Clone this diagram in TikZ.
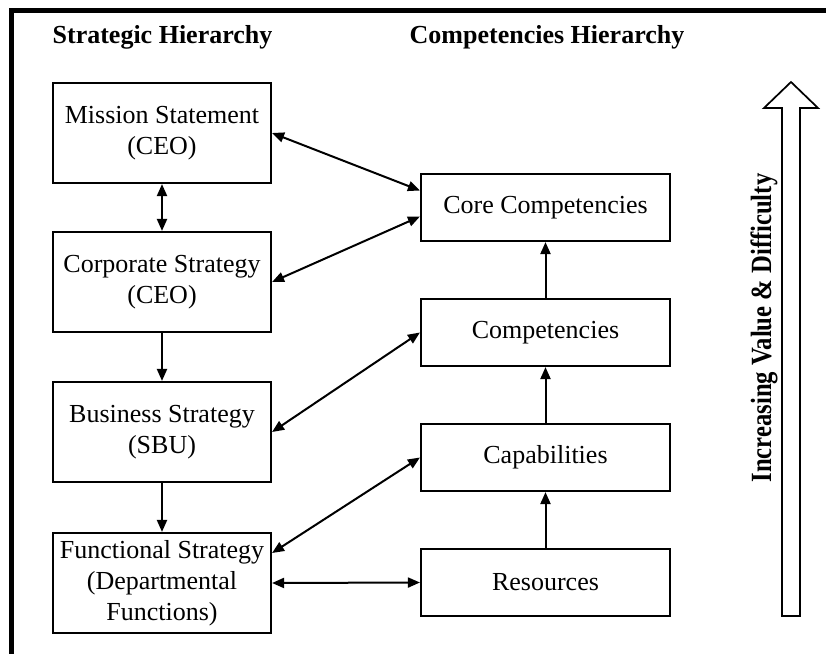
\documentclass[tikz,border=0pt]{standalone}
\usepackage{fontspec}
\setmainfont{Liberation Serif}
\usetikzlibrary{arrows.meta,positioning,calc}

\tikzset{
  box/.style={draw, line width=1.6pt, inner sep=0pt, align=center,
    font=\fontsize{19.5}{23.25}\selectfont},
  lbox/.style={box, minimum width=163.5pt, minimum height=75pt},
  rbox/.style={box, minimum width=186.75pt, minimum height=50.25pt},
  title/.style={anchor=base, font=\bfseries\fontsize{19.5}{23}\selectfont},
  both/.style={line width=1.5pt, {Triangle[length=9pt,width=7.5pt]}-{Triangle[length=9pt,width=7.5pt]}},
  single/.style={line width=1.5pt, -{Triangle[length=9pt,width=7.5pt]}},
}

\begin{document}
\begin{tikzpicture}[x=0.75pt, y=-0.75pt]
  \useasboundingbox (0,0) rectangle (826,654);
  % frame
  \draw[line width=3.75pt] (11.5,654) -- (11.5,10.5) -- (826,10.5);
  % headings
  \node[title] (lhead) at (162.5,43) {Strategic Hierarchy};
  \node[title] (rhead) at (547,43)   {Competencies Hierarchy};
  % strategic hierarchy
  \node[lbox] (mission)    at (162,133) {Mission Statement\\(CEO)};
  \node[lbox] (corporate)  at (162,282) {Corporate Strategy\\(CEO)};
  \node[lbox] (business)   at (162,432) {Business Strategy\\(SBU)};
  \node[lbox] (functional) at (162,583) {Functional Strategy\\(Departmental\\Functions)};
  % competencies hierarchy
  \node[rbox] (core)      at (545.5,207.5) {Core Competencies};
  \node[rbox] (compet)    at (545.5,332.5) {Competencies};
  \node[rbox] (capab)     at (545.5,457.5) {Capabilities};
  \node[rbox] (resources) at (545.5,582.5) {Resources};
  % vertical links
  \draw[both] (mission) -- (corporate);
  \draw[single] (corporate) -- (business);
  \draw[single] (business) -- (functional);
  \draw[single] (resources) -- (capab);
  \draw[single] (capab) -- (compet);
  \draw[single] (compet) -- (core);
  % cross links
  \draw[both] (mission.east) -- ([yshift=12.75pt]core.west);
  \draw[both] (corporate.east) -- ([yshift=-6.75pt]core.west);
  \draw[both] (business.east) -- (compet.west);
  \draw[both] ([yshift=22.5pt]functional.east) -- (capab.west);
  \draw[both] (functional.east) -- (resources.west);
  % big hollow arrow
  \draw[line width=1.3pt, line join=miter] (782,616) -- (782,108) -- (764,108) -- (791,82)
    -- (818,108) -- (800,108) -- (800,616) -- cycle;
  \node[title, font=\bfseries\fontsize{22}{26}\selectfont, rotate=90] (scale) at (771,328)
    {\scalebox{0.84}[1]{Increasing Value \& Difficulty}};
\end{tikzpicture}
\end{document}
